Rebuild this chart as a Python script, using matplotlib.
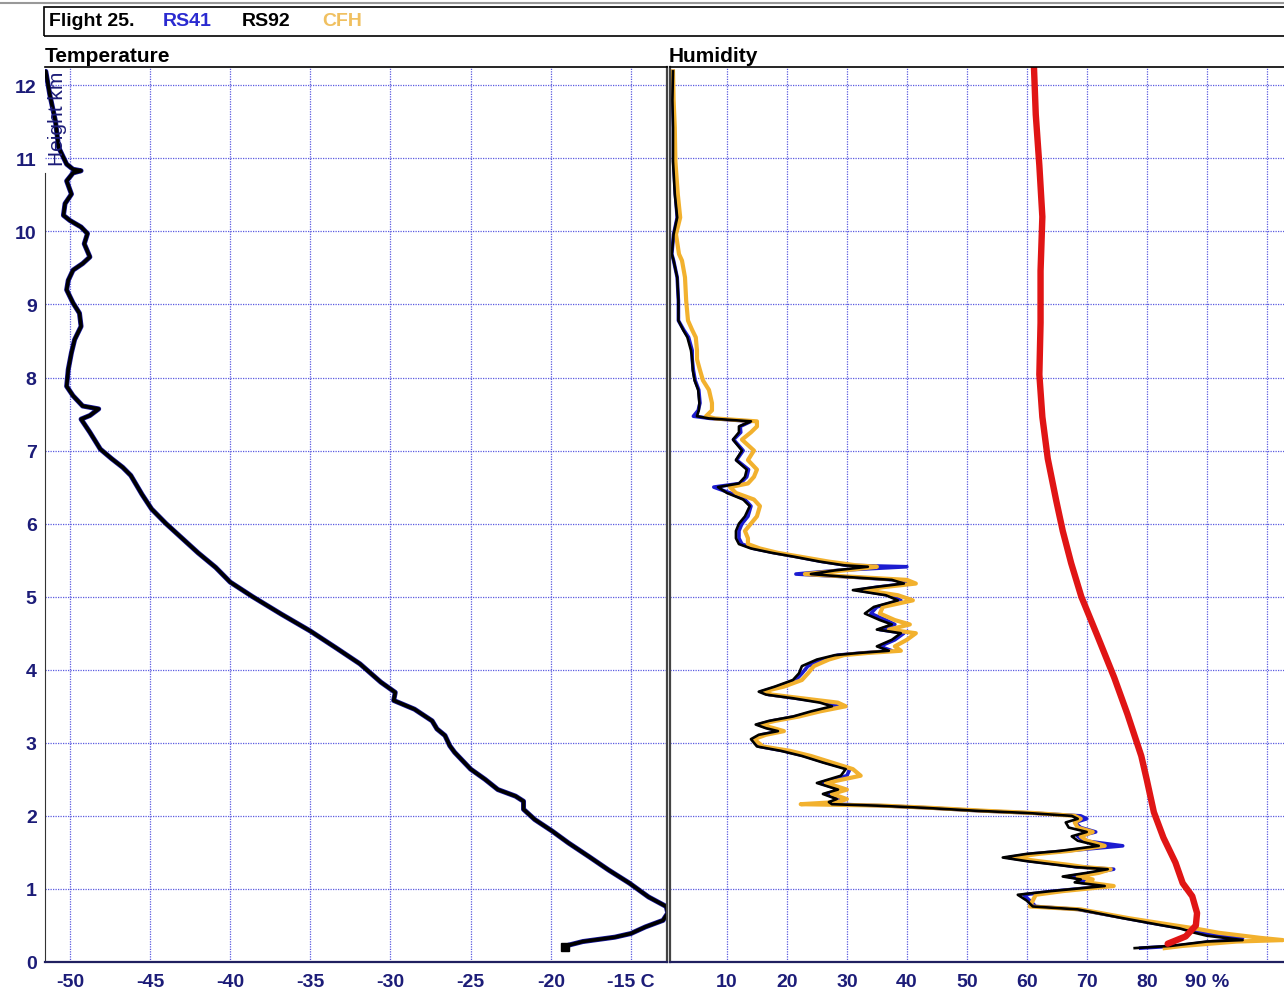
import matplotlib.pyplot as plt
from matplotlib.patches import Rectangle
from matplotlib.lines import Line2D

plt.rcParams['font.family'] = ['Liberation Sans', 'DejaVu Sans']

# Temperature profile (km, deg C)
height_t = [0.20, 0.23, 0.28, 0.34, 0.39, 0.48, 0.57, 0.67, 0.76, 0.89, 1.08, 1.26,
            1.44, 1.63, 1.79, 1.95, 2.09, 2.20, 2.27, 2.36, 2.50, 2.64, 2.87, 2.96,
            3.10, 3.19, 3.30, 3.46, 3.58, 3.69, 3.83, 4.08, 4.30, 4.53, 4.76, 5.00,
            5.20, 5.40, 5.60, 5.80, 6.00, 6.20, 6.40, 6.66, 6.77, 6.89, 7.02, 7.25,
            7.43, 7.48, 7.57, 7.61, 7.75, 7.88, 8.11, 8.34, 8.52, 8.70, 8.88, 9.02,
            9.20, 9.33, 9.47, 9.56, 9.65, 9.83, 9.97, 10.06, 10.15, 10.22, 10.38, 10.51,
            10.69, 10.80, 10.83, 10.85, 10.92, 11.15, 11.51, 11.87, 12.19]
temp = [-19.1, -18.9, -18.0, -16.0, -15.0, -14.1, -13.0, -12.7, -12.8, -13.9, -15.1, -16.4,
        -17.6, -18.9, -19.9, -21.0, -21.7, -21.7, -22.2, -23.3, -24.1, -25.0, -26.0, -26.3,
        -26.6, -27.1, -27.4, -28.5, -29.8, -29.7, -30.6, -31.9, -33.4, -35.0, -36.8, -38.6,
        -40.0, -40.9, -42.0, -43.0, -44.0, -44.9, -45.5, -46.2, -46.7, -47.4, -48.1, -48.75,
        -49.3, -48.75, -48.2, -49.2, -49.8, -50.2, -50.1, -49.9, -49.7, -49.3, -49.4, -49.8,
        -50.2, -50.1, -49.8, -49.2, -48.75, -49.1, -48.9, -49.3, -50.0, -50.4, -50.3, -49.9,
        -50.2, -49.8, -49.3, -49.8, -50.2, -50.7, -50.9, -51.25, -51.5]

# Humidity profiles (km, %RH)
height_rh = [0.19, 0.22, 0.28, 0.30, 0.33, 0.36, 0.40, 0.46, 0.51, 0.60, 0.72, 0.76,
             0.84, 0.92, 0.97, 1.04, 1.09, 1.13, 1.17, 1.22, 1.27, 1.30, 1.33, 1.38,
             1.43, 1.48, 1.52, 1.59, 1.66, 1.72, 1.78, 1.84, 1.91, 1.96, 2.00, 2.04,
             2.07, 2.11, 2.14, 2.16, 2.19, 2.23, 2.30, 2.36, 2.45, 2.55, 2.64, 2.73,
             2.82, 2.89, 2.95, 3.05, 3.11, 3.16, 3.20, 3.25, 3.30, 3.36, 3.43, 3.50,
             3.55, 3.61, 3.66, 3.70, 3.77, 3.86, 3.95, 4.05, 4.14, 4.20, 4.23, 4.26,
             4.32, 4.41, 4.50, 4.55, 4.62, 4.68, 4.77, 4.86, 4.95, 5.02, 5.09, 5.13,
             5.18, 5.23, 5.27, 5.31, 5.36, 5.41, 5.43, 5.48, 5.55, 5.60, 5.66, 5.72,
             5.80, 5.90, 6.00, 6.10, 6.24, 6.33, 6.42, 6.50, 6.55, 6.64, 6.74, 6.87,
             7.00, 7.15, 7.25, 7.33, 7.40, 7.44, 7.47, 7.55, 7.65, 7.83, 7.96, 8.10,
             8.25, 8.37, 8.55, 8.65, 8.78, 9.05, 9.37, 9.60, 9.69, 9.96, 10.19, 10.51,
             10.96, 11.42, 11.80, 12.19]
rh_rs92 = [78.0, 84.0, 90.0, 96.0, 93.0, 90.0, 88.0, 85.5, 82.0, 76.0, 68.5, 61.0,
           60.0, 58.5, 64.0, 73.0, 68.0, 69.0, 66.0, 70.0, 73.5, 68.0, 65.0, 60.0,
           56.0, 60.0, 65.5, 72.0, 68.5, 67.5, 70.0, 67.0, 66.5, 68.5, 67.5, 60.0,
           51.5, 43.0, 35.0, 27.5, 27.0, 28.3, 26.0, 28.5, 25.0, 29.0, 29.8, 26.0,
           22.5, 19.0, 15.0, 14.0, 15.3, 18.5, 16.5, 14.8, 17.0, 21.0, 24.0, 27.5,
           25.5, 21.0, 16.5, 15.3, 18.0, 21.0, 22.0, 22.5, 25.0, 28.0, 32.0, 37.0,
           35.0, 37.5, 39.0, 35.0, 37.5, 35.5, 33.0, 34.5, 38.5, 36.5, 31.0, 34.5,
           39.5, 37.5, 30.0, 24.0, 28.0, 33.5, 29.5, 25.5, 21.0, 17.5, 14.0, 12.0,
           11.5, 11.5, 12.0, 13.0, 13.8, 12.7, 10.0, 8.5, 12.0, 13.0, 13.3, 11.5,
           12.5, 11.0, 12.0, 12.0, 14.0, 7.0, 5.0, 5.3, 5.4, 5.2, 4.6, 4.3,
           4.2, 4.0, 3.4, 2.7, 1.9, 1.9, 1.7, 1.1, 0.8, 1.1, 1.7, 1.3,
           1.0, 1.0, 0.9, 1.0]
rh_rs41 = [79.0, 85.0, 91.0, 95.0, 96.0, 93.0, 89.0, 86.0, 82.5, 76.5, 68.5, 61.5,
           60.5, 59.5, 64.5, 73.5, 69.0, 70.0, 67.0, 71.0, 74.5, 68.5, 66.0, 61.0,
           57.0, 61.0, 66.5, 76.0, 69.5, 68.5, 71.5, 69.0, 68.0, 70.0, 69.0, 60.5,
           52.0, 43.5, 35.5, 28.0, 27.5, 28.8, 26.5, 29.0, 25.5, 30.0, 30.5, 26.5,
           23.0, 19.5, 15.5, 14.5, 15.8, 19.0, 17.0, 15.3, 17.5, 21.5, 25.0, 28.5,
           27.0, 21.5, 17.0, 15.8, 18.5, 21.5, 22.5, 23.5, 26.0, 28.5, 32.5, 37.5,
           35.5, 38.0, 39.5, 35.5, 38.0, 36.5, 34.0, 35.0, 39.0, 37.0, 32.0, 35.0,
           40.0, 38.0, 30.5, 21.5, 28.5, 40.0, 30.0, 26.0, 21.5, 18.0, 14.5, 12.5,
           12.0, 12.0, 12.5, 13.5, 14.0, 13.0, 10.5, 7.8, 12.2, 13.3, 13.6, 11.6,
           12.7, 11.1, 12.3, 12.2, 14.0, 7.2, 4.4, 5.2, 5.5, 5.3, 4.7, 4.4,
           4.2, 4.2, 3.6, 2.8, 1.9, 1.9, 1.7, 1.1, 0.8, 1.1, 1.7, 1.4,
           1.1, 1.1, 1.0, 1.0]
rh_cfh = [83.0, 86.0, 95.0, 102.7, 99.0, 96.0, 92.0, 88.0, 84.0, 77.0, 69.0, 60.5,
          61.0, 61.5, 66.0, 74.5, 70.0, 71.0, 68.5, 72.0, 74.0, 69.5, 67.0, 62.0,
          57.5, 62.0, 67.0, 73.0, 70.0, 69.0, 71.0, 68.5, 68.0, 69.0, 68.0, 61.0,
          53.0, 44.0, 36.0, 22.3, 28.5, 30.0, 27.5, 30.0, 26.5, 32.3, 31.0, 27.5,
          24.0, 20.5, 16.0, 14.5, 16.5, 19.5, 17.8, 15.5, 18.0, 22.0, 25.5, 29.8,
          28.5, 22.5, 17.5, 16.0, 19.5, 22.5, 23.5, 24.5, 27.0, 29.5, 33.5, 39.0,
          38.0, 40.0, 41.5, 37.0, 40.5, 38.0, 35.5, 36.0, 41.0, 38.5, 33.0, 36.0,
          41.5, 40.0, 31.5, 23.0, 29.5, 35.0, 31.5, 27.0, 22.0, 18.5, 15.5, 13.5,
          13.5, 13.0, 14.0, 15.0, 15.5, 14.5, 11.5, 10.5, 13.5, 14.5, 15.0, 13.5,
          14.5, 12.5, 14.0, 15.0, 15.0, 8.0, 6.5, 7.5, 7.5, 7.0, 6.0, 5.5,
          5.0, 5.0, 4.8, 4.2, 3.5, 3.2, 3.0, 2.5, 2.0, 1.5, 2.2, 1.8,
          1.4, 1.3, 1.1, 1.0]

# Red profile in the humidity panel
height_red = [0.25, 0.35, 0.50, 0.67, 0.90, 1.08, 1.36, 1.70, 2.05, 2.50, 2.82, 3.39,
              3.89, 4.46, 5.00, 5.46, 5.90, 6.32, 6.89, 7.46, 8.04, 8.75, 9.46, 10.20,
              10.90, 11.60, 12.25]
rh_red = [83.5, 86.5, 88.2, 88.4, 87.6, 86.0, 84.8, 82.8, 81.2, 80.0, 79.1, 76.8,
          74.6, 71.8, 69.1, 67.4, 66.0, 64.9, 63.5, 62.6, 62.1, 62.3, 62.3, 62.6,
          62.1, 61.5, 61.2]

t_ticks = [-50, -45, -40, -35, -30, -25, -20, -15]
t_labels = ['-50', '-45', '-40', '-35', '-30', '-25', '-20', '-15 C']
rh_ticks = [10, 20, 30, 40, 50, 60, 70, 80, 90, 100]
rh_labels = ['10', '20', '30', '40', '50', '60', '70', '80', '90 %', '']
km_ticks = list(range(0, 13))

W, H = 1284, 995
navy = '#1c1c78'
grid_col = '#5a5ae0'


def box(x0, y0, x1, y1):
    return [x0 / W, 1 - y1 / H, (x1 - x0) / W, (y1 - y0) / H]


fig = plt.figure(figsize=(W / 100, H / 100), dpi=100)
ax_t = fig.add_axes(box(45, 68, 667, 963))
ax_h = fig.add_axes(box(670, 68, 1284, 963))

for ax in (ax_t, ax_h):
    ax.set_ylim(0, 12.25)
    ax.set_yticks(km_ticks)
    ax.grid(True, color=grid_col, linestyle=(0, (1, 1)), linewidth=0.9)
    ax.set_axisbelow(True)
    ax.tick_params(length=0, labelsize=14, labelcolor=navy, pad=8)
    ax.spines['top'].set_color('black')
    ax.spines['top'].set_linewidth(1.2)
    ax.spines['bottom'].set_color('#202060')
    ax.spines['bottom'].set_linewidth(1.6)

# temperature panel
ax_t.set_xlim(-51.55, -12.75)
ax_t.set_xticks(t_ticks)
ax_t.set_xticklabels(t_labels, fontweight='bold')
ax_t.set_yticklabels([str(k) for k in km_ticks], fontweight='bold')
ax_t.tick_params(axis='y', pad=6)
ax_t.spines['left'].set_bounds(0, 10.8)
ax_t.spines['left'].set_color('#333333')
ax_t.spines['right'].set_color('#444444')
ax_t.spines['right'].set_linewidth(1.6)
ax_t.plot(temp, height_t, color='#1818a0', lw=3.6, solid_capstyle='round')
ax_t.plot(temp, height_t, color='black', lw=2.6, marker='s', markevery=[0], ms=6,
          solid_capstyle='round')
ax_t.text(-50.75, 11.56, 'Height km', rotation=90, ha='center', va='center',
          color=navy, fontsize=15)

# humidity panel
ax_h.set_xlim(0.5, 102.9)
ax_h.set_xticks(rh_ticks)
ax_h.set_xticklabels(rh_labels, fontweight='bold')
ax_h.tick_params(axis='y', labelleft=False)
ax_h.spines['right'].set_visible(False)
ax_h.spines['left'].set_color('#444444')
ax_h.spines['left'].set_linewidth(1.6)
ax_h.plot(rh_rs41, height_rh, color='#1c1cd0', lw=2.6)
ax_h.plot(rh_cfh, height_rh, color='#f2b12e', lw=3.0)
ax_h.plot(rh_rs92, height_rh, color='black', lw=1.9)
ax_h.plot(rh_red, height_red, color='#e01515', lw=4.6, solid_capstyle='round')

# panel titles
fig.text(45 / W, 1 - 66 / H, 'Temperature', fontsize=15, fontweight='bold', va='bottom')
fig.text(669 / W, 1 - 66 / H, 'Humidity', fontsize=15, fontweight='bold', va='bottom')

# header box with legend text
fig.add_artist(Line2D([0, 1], [1 - 4 / H, 1 - 4 / H], color='#999999', lw=1.5))
fig.add_artist(Rectangle((44 / W, 1 - 37 / H), (1300 - 44) / W, 29 / H,
                         transform=fig.transFigure, fill=False, ec='black', lw=1.2))
yh = 1 - 22 / H
fig.text(49 / W, yh, 'Flight 25.', fontsize=14, fontweight='bold', va='center', color='black')
fig.text(163 / W, yh, 'RS41', fontsize=14, fontweight='bold', va='center', color='#2a2ad0')
fig.text(242 / W, yh, 'RS92', fontsize=14, fontweight='bold', va='center', color='black')
fig.text(322 / W, yh, 'CFH', fontsize=14, fontweight='bold', va='center', color='#f0c060')

fig.savefig('out.png', dpi=100)
